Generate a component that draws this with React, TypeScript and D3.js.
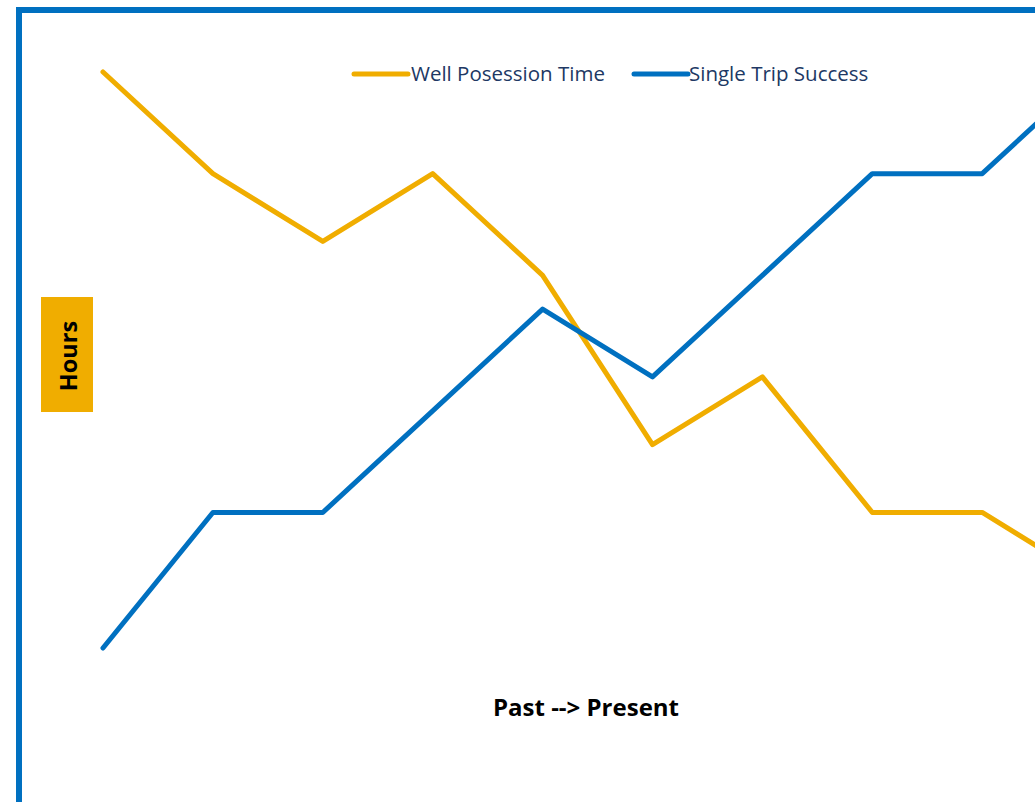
import React from "react";
import * as d3 from "d3";

const periods = [1, 2, 3, 4, 5, 6, 7, 8, 9, 10];
const wellPossessionTime = [17, 14, 12, 14, 11, 6, 8, 4, 4, 2];
const singleTripSuccess = [0, 4, 4, 7, 10, 8, 11, 14, 14, 17];
const seriesNames = ["Well Posession Time", "Single Trip Success"];
const seriesColors = ["#F0AD00", "#0070C0"];

const W = 1035;
const H = 802;

export default function App() {
  const x = d3.scaleLinear().domain([1, 10]).range([103, 103 + 9 * 109.9]);
  const y = d3.scaleLinear().domain([0, 17]).range([648, 72]);
  const line = d3
    .line<number>()
    .x((_, i) => x(periods[i]))
    .y((d) => y(d));
  const series = [wellPossessionTime, singleTripSuccess];
  const font = "'Open Sans', sans-serif";
  const legendItems = [
    { x1: 354, x2: 408, tx: 411 },
    { x1: 634, x2: 688, tx: 689 },
  ];
  return (
    <svg
      width={W}
      height={H}
      style={{ position: "absolute", left: 0, top: 0, background: "#fff" }}
    >
      <rect x={19} y={10} width={1100} height={900} fill="#fff" stroke="#0070C0" strokeWidth={6} />
      {series.map((s, i) => (
        <path
          key={i}
          d={line(s) || ""}
          fill="none"
          stroke={seriesColors[i]}
          strokeWidth={5}
          strokeLinecap="round"
          strokeLinejoin="round"
        />
      ))}
      {legendItems.map((it, i) => (
        <g key={i}>
          <line x1={it.x1} x2={it.x2} y1={74} y2={74} stroke={seriesColors[i]} strokeWidth={5} strokeLinecap="round" />
          <text x={it.tx} y={81} fontFamily={font} fontSize={20.5} fill="#203864">
            {seriesNames[i]}
          </text>
        </g>
      ))}
      <rect x={41} y={297} width={52} height={115} fill="#F0AD00" />
      <text
        transform="translate(77,356) rotate(-90)"
        textAnchor="middle"
        fontFamily={font}
        fontWeight="bold"
        fontSize={23.5}
        fill="#000"
      >
        Hours
      </text>
      <text x={586} y={716} textAnchor="middle" fontFamily={font} fontWeight="bold" fontSize={24} fill="#000">
        Past --&gt; Present
      </text>
    </svg>
  );
}
